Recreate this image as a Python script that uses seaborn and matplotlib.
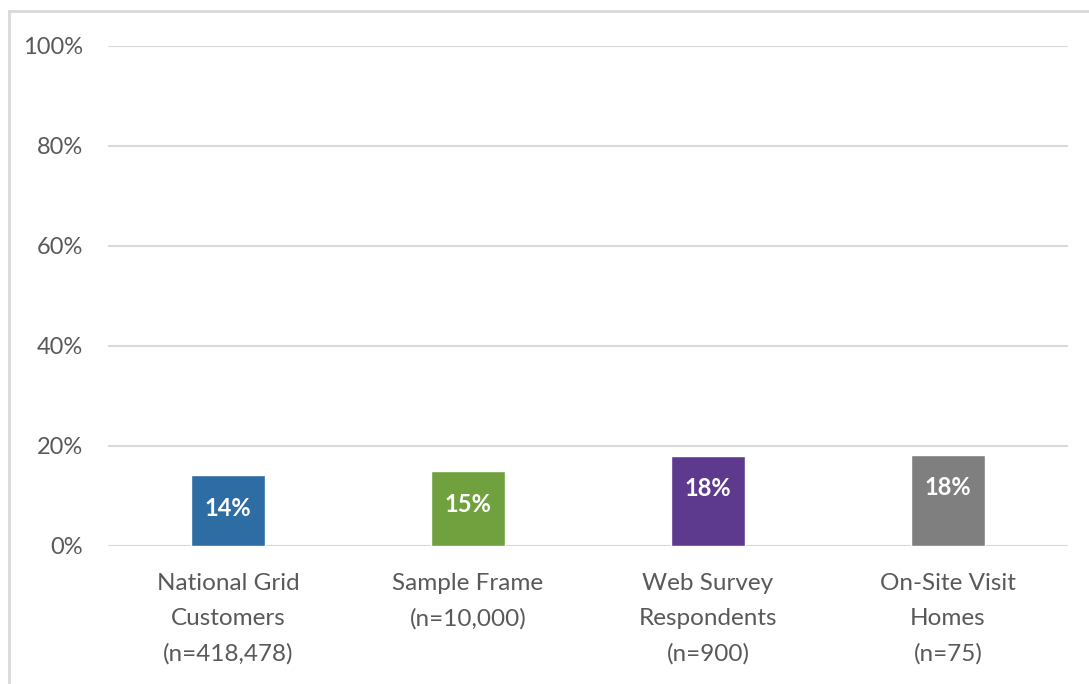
import matplotlib
matplotlib.use("Agg")
import matplotlib.pyplot as plt
import seaborn as sns
import pandas as pd
from matplotlib.patches import Rectangle

categories = ["National Grid\nCustomers\n(n=418,478)", "Sample Frame\n(n=10,000)",
              "Web Survey\nRespondents\n(n=900)", "On-Site Visit\nHomes\n(n=75)"]
values = [14.2, 15.0, 18.1, 18.3]
labels = ["14%", "15%", "18%", "18%"]
colors = ["#2E6CA4", "#71A13E", "#5E3A8E", "#7F7F7F"]
yticks = [0, 20, 40, 60, 80, 100]
ytick_labels = ["0%", "20%", "40%", "60%", "80%", "100%"]

sns.set_theme(style="white")
plt.rcParams['font.family'] = ['Lato', 'DejaVu Sans']

fig = plt.figure(figsize=(10.89, 6.84), dpi=100)
ax = fig.add_axes([108/1089, 1-546/684, 960/1089, 500/684])

df = pd.DataFrame({"cat": categories, "val": values})
sns.barplot(data=df, x="cat", y="val", hue="cat", palette=colors, legend=False,
            width=0.31, ax=ax, saturation=1)

ax.set_ylim(0, 100)
ax.set_xlim(-0.5, 3.5)
ax.set_yticks(yticks)
ax.set_yticklabels(ytick_labels, fontsize=17, color="#595959")
ax.tick_params(axis="x", labelsize=17.5, labelcolor="#595959", length=0, pad=19.5)
ax.tick_params(axis="y", length=0, pad=18)
for lbl in ax.get_xticklabels():
    lbl.set_linespacing(1.8)
    lbl.set_verticalalignment("top")
ax.set_xlabel("")
ax.set_ylabel("")
ax.yaxis.grid(True, color="#D9D9D9", linewidth=1.5)
ax.set_axisbelow(True)
for s in ax.spines.values():
    s.set_visible(False)

for i, (v, t) in enumerate(zip(values, labels)):
    ax.annotate(t, (i, v), xytext=(0, -24), textcoords="offset points",
                ha="center", va="center", color="white", fontsize=17, fontweight="bold")

fig.patches.append(Rectangle((9/1089, -0.05), 1.1, 1-11/684+0.05, transform=fig.transFigure,
                             fill=False, edgecolor="#D9D9D9", linewidth=2, figure=fig))

fig.savefig("out.png", dpi=100)
